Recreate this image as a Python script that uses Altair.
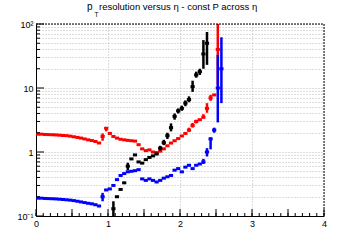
import altair as alt
import pandas as pd

# eta bin centres (bin width 0.05)
ETA = [round(0.025 + 0.05 * i, 3) for i in range(52)]

RED = [1.90, 1.90, 1.88, 1.87, 1.86, 1.85, 1.83, 1.81, 1.80, 1.77,
       1.73, 1.69, 1.65, 1.60, 1.55, 1.51, 1.46, 1.38, 1.75, 2.35,
       1.95, 1.75, 1.65, 1.58, 1.55, 1.52, 1.50, 1.48, 1.30, 1.12,
       1.05, 1.08, 1.00, 0.98, 1.03, 1.12, 1.25, 1.38, 1.50, 1.62,
       1.78, 1.95, 2.20, 2.60, 3.00, 3.20, 3.50, 4.80, 7.00, 7.80,
       40.0]

BLUE = [0.190, 0.190, 0.188, 0.187, 0.186, 0.185, 0.183, 0.181, 0.179, 0.177,
        0.174, 0.170, 0.166, 0.162, 0.158, 0.155, 0.150, 0.143, 0.200, 0.255,
        0.265, 0.30, 0.37, 0.43, 0.46, 0.49, 0.50, 0.51, 0.53, 0.38,
        0.36, 0.38, 0.36, 0.34, 0.36, 0.39, 0.41, 0.43, 0.52, 0.55,
        0.49, 0.58, 0.62, 0.55, 0.62, 0.65, 0.70, 1.00, 1.60, 2.20,
        10.0, 20.0]

BLACK_START = 21  # first black bin: eta = 1.075
BLACK = [0.13, 0.20, 0.26, 0.33, 0.60, 0.78, 0.90, 0.70, 0.67, 0.76,
         0.82, 0.87, 0.93, 1.15, 1.40, 1.80, 2.40, 3.60, 4.40, 4.80,
         5.80, 6.60, 10.5, 16.0, 18.0, 34.0, 50.0]

# visible error bars: (eta, low, high)
RED_ERR = [(0.925, 1.5, 1.95), (0.975, 2.1, 2.45), (2.125, 2.05, 2.4), (2.175, 2.4, 2.85),
           (2.225, 2.8, 3.2), (2.325, 3.3, 3.9), (2.375, 4.1, 5.8), (2.425, 6.3, 7.8),
           (2.525, 11.0, 200.0)]
BLACK_ERR = [(1.075, 0.08, 0.17), (1.275, 0.52, 0.68), (1.725, 1.05, 1.25), (1.775, 1.28, 1.55),
             (1.825, 1.6, 2.0), (1.875, 2.1, 2.8), (1.925, 3.2, 4.0), (1.975, 4.0, 4.8),
             (2.025, 4.4, 5.3), (2.075, 5.2, 6.4), (2.125, 6.0, 7.4), (2.175, 8.7, 13.0),
             (2.225, 14.5, 18.0), (2.275, 16.0, 20.0), (2.325, 20.0, 56.0), (2.375, 23.0, 75.0)]
BLUE_ERR = [(0.925, 0.17, 0.23), (2.325, 0.65, 0.78), (2.375, 0.85, 1.15), (2.425, 1.1, 1.7),
            (2.475, 2.0, 2.4), (2.525, 2.9, 33.0), (2.575, 5.8, 62.0)]

X_MAJOR = [0, 0.5, 1, 1.5, 2, 2.5, 3, 3.5, 4]
X_MINOR = [round(0.1 * i, 1) for i in range(41)]
Y_MAJOR = [0.1, 1, 10, 100]
Y_MINOR = [m * d for d in (0.1, 1, 10) for m in range(2, 10)]

rows = []
for e, v in zip(ETA, RED):
    rows.append({"eta": e, "res": v, "s": "red"})
for e, v in zip(ETA[BLACK_START:], BLACK):
    rows.append({"eta": e, "res": v, "s": "black"})
for e, v in zip(ETA, BLUE):
    rows.append({"eta": e, "res": v, "s": "blue"})
df = pd.DataFrame(rows)

erows = []
for name, lst in (("red", RED_ERR), ("black", BLACK_ERR), ("blue", BLUE_ERR)):
    for e, lo, hi in lst:
        erows.append({"eta": e, "lo": lo, "hi": hi, "s": name})
edf = pd.DataFrame(erows)

W, H = 288, 192
FONT = "Liberation Sans"
xs = alt.Scale(domain=[0, 4], nice=False, zero=False)
ys = alt.Scale(type="log", domain=[0.1, 100], nice=False)
cs = alt.Scale(domain=["red", "black", "blue"], range=["#ff0000", "#000000", "#0000ff"])

label_expr = ("datum.value == 0.1 ? '10\u207b\u00b9' : datum.value == 1 ? '1' : "
              "datum.value == 10 ? '10' : datum.value == 100 ? '10\u00b2' : ''")

xaxis = alt.Axis(values=X_MAJOR, format=".1~f", grid=True, gridColor="#bbbbbb",
                 gridDash=[1, 2], ticks=False, domain=True, domainColor="black",
                 labelFont=FONT, labelFontSize=9, labelColor="black", labelPadding=3,
                 labelFlush=False, labelOverlap=False, title=None)
yaxis = alt.Axis(values=Y_MAJOR + Y_MINOR, labelExpr=label_expr, grid=True,
                 gridColor="#bbbbbb", gridDash=[1, 2], ticks=False, domain=True,
                 domainColor="black", labelFont=FONT, labelFontSize=9,
                 labelColor="black", labelPadding=3, labelOverlap=False, title=None)

points = alt.Chart(df).mark_tick(orient="horizontal", size=4.2, thickness=3,
                                 opacity=1, clip=True).encode(
    x=alt.X("eta:Q", scale=xs, axis=xaxis),
    y=alt.Y("res:Q", scale=ys, axis=yaxis),
    color=alt.Color("s:N", scale=cs, legend=None),
)

errs = alt.Chart(edf).mark_rule(strokeWidth=2.5, clip=True).encode(
    x=alt.X("eta:Q", scale=xs),
    y=alt.Y("lo:Q", scale=ys),
    y2="hi:Q",
    color=alt.Color("s:N", scale=cs, legend=None),
)

xmaj = alt.Chart(pd.DataFrame({"p": X_MAJOR})).mark_rule(color="black").encode(
    x=alt.X("p:Q", scale=xs), y=alt.value(H), y2=alt.value(H - 7))
xmin = alt.Chart(pd.DataFrame({"p": X_MINOR})).mark_rule(color="black").encode(
    x=alt.X("p:Q", scale=xs), y=alt.value(H), y2=alt.value(H - 3))
ymaj = alt.Chart(pd.DataFrame({"p": Y_MAJOR})).mark_rule(color="black").encode(
    y=alt.Y("p:Q", scale=ys), x=alt.value(0), x2=alt.value(8))
ymin = alt.Chart(pd.DataFrame({"p": Y_MINOR})).mark_rule(color="black").encode(
    y=alt.Y("p:Q", scale=ys), x=alt.value(0), x2=alt.value(4))

one = alt.Data(values=[{"a": 1}])
top = alt.Chart(one).mark_rule(color="black", strokeDash=[2, 1]).encode(
    x=alt.value(0), x2=alt.value(W), y=alt.value(0))
right = alt.Chart(one).mark_rule(color="black", strokeDash=[2, 1]).encode(
    x=alt.value(W), y=alt.value(0), y2=alt.value(H))

t_p = alt.Chart(one).mark_text(font=FONT, fontSize=10, align="left", baseline="alphabetic",
                               color="black").encode(
    x=alt.value(51), y=alt.value(-14), text=alt.value("p"))
t_T = alt.Chart(one).mark_text(font=FONT, fontSize=6.5, align="left", baseline="alphabetic",
                               color="black").encode(
    x=alt.value(58.5), y=alt.value(-7.5), text=alt.value("T"))
t_rest = alt.Chart(one).mark_text(font=FONT, fontSize=9.5, align="left", baseline="alphabetic",
                                  color="black").encode(
    x=alt.value(63), y=alt.value(-14),
    text=alt.value("resolution versus \u03b7 - const P across \u03b7"))

chart = alt.layer(points, errs, xmaj, xmin, ymaj, ymin, top, right, t_p, t_T, t_rest).properties(
    width=W, height=H,
    autosize=alt.AutoSizeParams(type="none"),
    padding={"left": 36, "top": 24, "right": 36, "bottom": 24},
    background="white",
).configure_view(stroke=None)

chart.save("out.html", embed_options={"renderer": "svg", "actions": False})
